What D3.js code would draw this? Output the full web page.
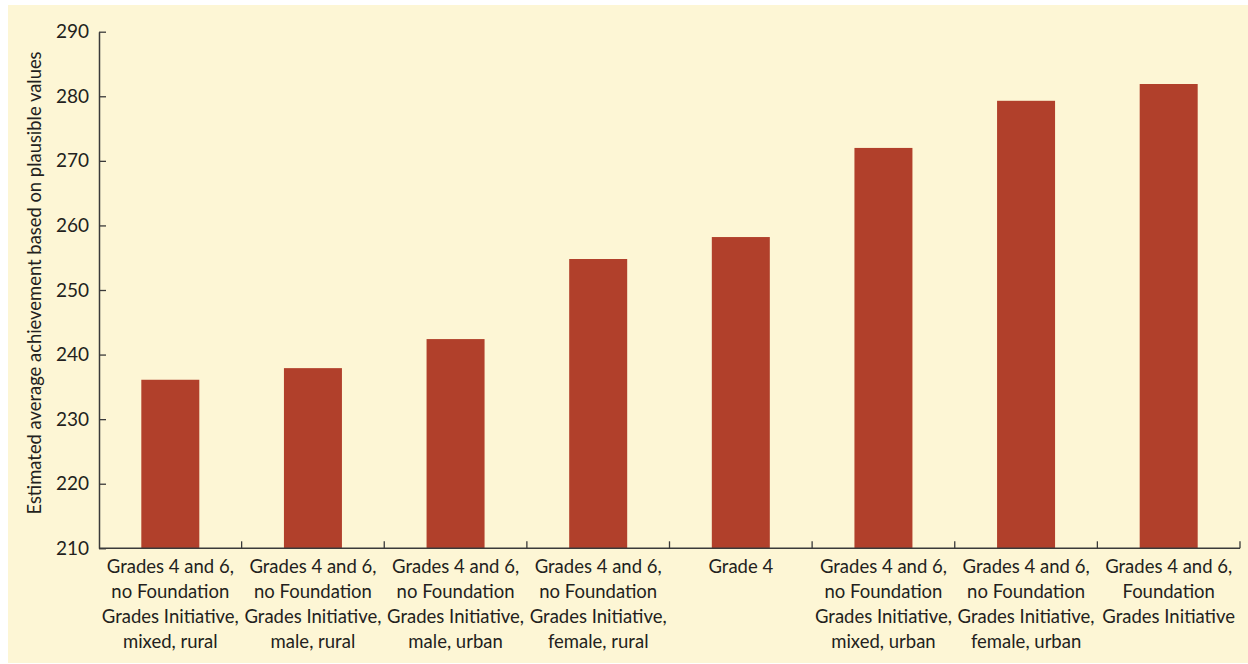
<!DOCTYPE html>
<html><head><meta charset="utf-8">
<script src="https://cdn.jsdelivr.net/npm/d3@7/dist/d3.min.js"></script>
<style>
html,body{margin:0;padding:0;background:#fff;}
svg{display:block;}
text{font-family:"Lato","Open Sans",sans-serif;fill:#231f20;}
</style></head>
<body>
<svg id="chart" width="1248" height="664"></svg>
<script>
const categories = [
  ["Grades 4 and 6,","no Foundation","Grades Initiative,","mixed, rural"],
  ["Grades 4 and 6,","no Foundation","Grades Initiative,","male, rural"],
  ["Grades 4 and 6,","no Foundation","Grades Initiative,","male, urban"],
  ["Grades 4 and 6,","no Foundation","Grades Initiative,","female, rural"],
  ["Grade 4"],
  ["Grades 4 and 6,","no Foundation","Grades Initiative,","mixed, urban"],
  ["Grades 4 and 6,","no Foundation","Grades Initiative,","female, urban"],
  ["Grades 4 and 6,","Foundation","Grades Initiative"]
];
const values = [236.1, 237.9, 242.4, 254.8, 258.2, 272.0, 279.3, 281.9];
const yTicks = [210, 220, 230, 240, 250, 260, 270, 280, 290];
const yTitle = "Estimated average achievement based on plausible values";

const svg = d3.select("#chart");
svg.append("rect").attr("x",8).attr("y",5).attr("width",1240).attr("height",658).attr("fill","#fdf6d5");

const m = {left:99, right:1240, top:31.7, bottom:548.3};
const idx = categories.map((d,i)=>i);
const x = d3.scaleBand().domain(idx).range([m.left, m.right]).paddingInner(0).paddingOuter(0);
const y = d3.scaleLinear().domain([210,290]).range([m.bottom, m.top]);
const bw = 58;

svg.append("g").selectAll("rect").data(values).join("rect")
  .attr("x",(d,i)=>x(i)+x.bandwidth()/2-bw/2)
  .attr("width",bw)
  .attr("y",d=>y(d))
  .attr("height",d=>y(210)-y(d))
  .attr("fill","#b1402b");

// y axis
const ya = svg.append("g").attr("transform",`translate(${m.left},0)`)
  .call(d3.axisLeft(y).tickValues(yTicks).tickSize(-7).tickPadding(10).tickSizeOuter(0));
ya.select(".domain").attr("stroke","#3a3a3a").attr("stroke-width",1.5);
ya.selectAll(".tick line").attr("stroke","#3a3a3a").attr("stroke-width",1.3);
ya.selectAll(".tick text").style("font-size","19px").style("font-family","Lato, sans-serif").attr("fill","#231f20");

// x axis
const bounds = d3.range(categories.length+1).map(i=>m.left + i*x.step());
const xa = svg.append("g");
xa.append("line").attr("x1",m.left).attr("x2",m.right).attr("y1",m.bottom).attr("y2",m.bottom)
  .attr("stroke","#3a3a3a").attr("stroke-width",1.5);
xa.selectAll("line.t").data(bounds.slice(1)).join("line").attr("class","t")
  .attr("x1",d=>d).attr("x2",d=>d).attr("y1",m.bottom).attr("y2",m.bottom-7)
  .attr("stroke","#3a3a3a").attr("stroke-width",1.3);

const lbl = svg.append("g").selectAll("text").data(categories).join("text")
  .attr("text-anchor","middle")
  .style("font-size","18.5px")
  .attr("transform",(d,i)=>`translate(${x(i)+x.bandwidth()/2},573)`);
lbl.selectAll("tspan").data(d=>d).join("tspan")
  .attr("x",0).attr("y",(d,j)=>j*25).text(d=>d);

svg.append("text").attr("text-anchor","middle")
  .attr("transform",`translate(41,283) rotate(-90)`)
  .style("font-size","18.4px").text(yTitle);
</script>
</body></html>
